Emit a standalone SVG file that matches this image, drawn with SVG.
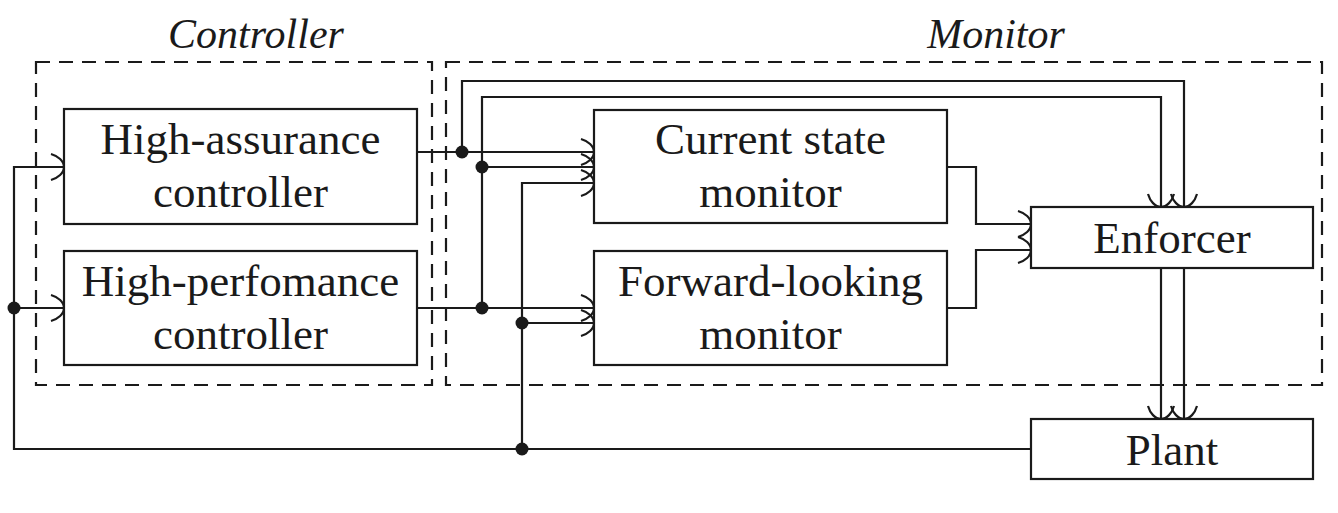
<svg xmlns="http://www.w3.org/2000/svg" width="1338" height="513" viewBox="0 0 1338 513">
<style>
.box{fill:#fff;stroke:#1a1a1a;stroke-width:2.2}
.grp{fill:none;stroke:#1a1a1a;stroke-width:2.2;stroke-dasharray:14 9}
.ln{fill:none;stroke:#1a1a1a;stroke-width:2.2}
.arr{marker-end:url(#ah)}
.dot{fill:#1a1a1a}
.t{font-family:"Liberation Serif","Times New Roman",serif;font-size:45px;fill:#1a1a1a;text-anchor:middle}
.ti{font-family:"Liberation Serif","Times New Roman",serif;font-size:42px;font-style:italic;fill:#1a1a1a;text-anchor:middle}
</style>
<defs>
<marker id="ah" markerUnits="userSpaceOnUse" markerWidth="34" markerHeight="34" viewBox="-17 -17 34 34" refX="0" refY="0" orient="auto" overflow="visible">
<path d="M -13,-13 C -6,-11 0,-6 0,0 C 0,6 -6,11 -13,13" fill="none" stroke="#1a1a1a" stroke-width="2.2"/>
</marker>
</defs>
<rect width="1338" height="513" fill="#fff"/>
<g id="controller-group">
<rect class="grp" x="36" y="62" width="396" height="323"/>
<text class="ti" x="256" y="48">Controller</text>
</g>
<g id="monitor-group">
<rect class="grp" x="446" y="62" width="876" height="323"/>
<text class="ti" x="996" y="48">Monitor</text>
</g>
<g id="connectors">
<path class="ln arr" d="M 417,152 H 594"/>
<path class="ln arr" d="M 462,152 V 81 H 1184 V 207"/>
<path class="ln arr" d="M 482,167 H 594"/>
<path class="ln arr" d="M 482,308 V 97 H 1161 V 207"/>
<path class="ln arr" d="M 417,308 H 594"/>
<path class="ln arr" d="M 522,449 V 183 H 594"/>
<path class="ln arr" d="M 522,323 H 594"/>
<path class="ln arr" d="M 947,167 H 976 V 224 H 1031"/>
<path class="ln arr" d="M 947,308 H 976 V 250 H 1031"/>
<path class="ln arr" d="M 1161,268 V 419"/>
<path class="ln arr" d="M 1184,268 V 419"/>
<path class="ln arr" d="M 1031,449 H 14 V 167 H 64"/>
<path class="ln arr" d="M 14,308 H 64"/>
<circle class="dot" cx="462" cy="152" r="6.5"/>
<circle class="dot" cx="482" cy="167" r="6.5"/>
<circle class="dot" cx="482" cy="308" r="6.5"/>
<circle class="dot" cx="522" cy="323" r="6.5"/>
<circle class="dot" cx="522" cy="449" r="6.5"/>
<circle class="dot" cx="14" cy="308" r="6.5"/>
</g>
<g id="high-assurance-controller">
<rect class="box" x="64" y="109" width="353" height="115"/>
<text class="t" x="240.5" y="154">High-assurance</text>
<text class="t" x="240.5" y="207">controller</text>
</g>
<g id="high-performance-controller">
<rect class="box" x="64" y="251" width="353" height="114"/>
<text class="t" x="240.5" y="296">High-perfomance</text>
<text class="t" x="240.5" y="349">controller</text>
</g>
<g id="current-state-monitor">
<rect class="box" x="594" y="110" width="353" height="113"/>
<text class="t" x="770.5" y="154">Current state</text>
<text class="t" x="770.5" y="207">monitor</text>
</g>
<g id="forward-looking-monitor">
<rect class="box" x="594" y="251" width="353" height="114"/>
<text class="t" x="770.5" y="296">Forward-looking</text>
<text class="t" x="770.5" y="349">monitor</text>
</g>
<g id="enforcer">
<rect class="box" x="1031" y="207" width="282" height="61"/>
<text class="t" x="1172" y="253">Enforcer</text>
</g>
<g id="plant">
<rect class="box" x="1031" y="419" width="282" height="60"/>
<text class="t" x="1172" y="465">Plant</text>
</g>
</svg>
